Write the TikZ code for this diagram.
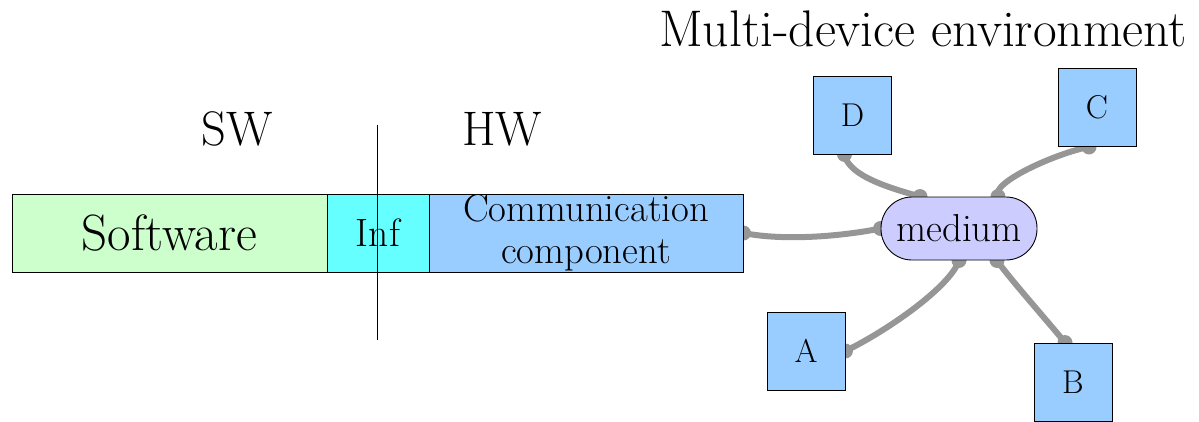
\documentclass[tikz,border=0pt]{standalone}
\usetikzlibrary{calc}
\pgfdeclarelayer{background}
\pgfsetlayers{background,main}
\definecolor{swgreen}{HTML}{CCFFCC}
\definecolor{infcyan}{HTML}{66FFFF}
\definecolor{hwblue}{HTML}{99CCFF}
\definecolor{medlilac}{HTML}{CCCCFF}
\definecolor{wire}{RGB}{150,150,150}
\newcommand\pts[1]{\fontsize{#1}{1.1\dimexpr#1pt\relax}\selectfont}
\tikzset{
  block/.style={draw=black, line width=0.9pt, inner sep=0pt, minimum height=78pt},
  device/.style={draw=black, line width=0.9pt, fill=hwblue, minimum width=78pt,
    minimum height=78pt, inner sep=0pt, font=\pts{33}},
  link/.style={draw=wire, line width=6pt},
  joint/.style={fill=wire},
  heading/.style={font=\pts{48.5}, anchor=base, inner sep=0pt},
}
\begin{document}
\begin{tikzpicture}[x=1pt,y=-1pt]
\useasboundingbox (0,0) rectangle (1199,421);

% headings
\node[heading, font=\pts{51.5}] (title) at (923,46) {Multi-device environment};
\node[heading] (sw) at (237,145) {SW};
\node[heading] (hw) at (502,145) {HW};

% layered stack
\node[block, fill=swgreen, minimum width=315pt, font=\pts{51}]
  (soft) at (169.5,233) {Software};
\node[block, fill=infcyan, minimum width=102pt, font=\pts{39.5}]
  (inf) at (378,233) {Inf};
\node[block, fill=hwblue, minimum width=314pt, align=center,
  font=\fontsize{38.7}{42}\selectfont] (comm) at (586,233) {Communication\\component};

% shared medium and devices
\node[draw=black, line width=0.9pt, fill=medlilac, rounded corners=31pt,
  minimum width=156pt, minimum height=63pt, inner sep=0pt, font=\pts{39}]
  (medium) at (959,228.5) {medium};
\node[device] (D) at (852.5,115) {D};
\node[device] (C) at (1097,107.5) {C};
\node[device] (A) at (806,351) {A};
\node[device] (B) at (1073,382) {B};

% attachment points
\coordinate (d1) at ($(D.south)+(-8,0)$);
\coordinate (d2) at ($(medium.north)+(-39,0)$);
\coordinate (c1) at ($(C.south)+(-8,0)$);
\coordinate (c2) at ($(medium.north)+(39,0)$);
\coordinate (a1) at (A.east);
\coordinate (a2) at (medium.south);
\coordinate (b1) at ($(medium.south)+(38,0)$);
\coordinate (b2) at ($(B.north)+(-8,0)$);
\coordinate (m1) at (comm.east);
\coordinate (m2) at (medium.west);

% links drawn beneath the boxes
\begin{pgfonlayer}{background}
  \draw[link] (m1) .. controls +(40,8) and +(-40,8) .. (m2);
  \draw[link] (d1) .. controls +(4,22) and +(-28,-8) .. (d2);
  \draw[link] (c1) .. controls +(-32,6) and +(-8,-14) .. (c2);
  \draw[link] (a1) .. controls +(45,-22) and +(-8,25) .. (a2);
  \draw[link] (b1) .. controls +(10,15) and +(-12,-15) .. (b2);
  \foreach \p in {m1,m2,d1,d2,c1,c2,a1,a2,b1,b2}
    \fill[joint] (\p) circle (7.5pt);
\end{pgfonlayer}

% hardware/software boundary
\coordinate (cutTop) at (377,125);
\coordinate (cutBot) at (377,340);
\draw[black, line width=0.9pt] (cutTop) -- (cutBot);
\end{tikzpicture}
\end{document}
